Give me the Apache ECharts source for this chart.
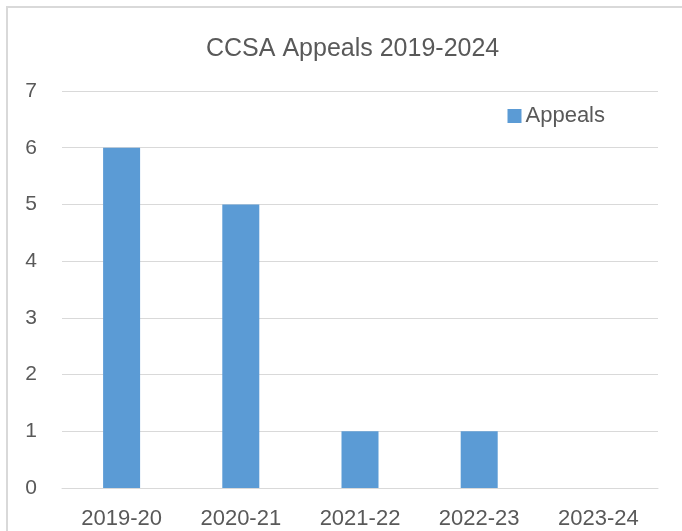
<!DOCTYPE html>
<html>
<head>
<meta charset="utf-8">
<script src="https://cdn.jsdelivr.net/npm/echarts@6/dist/echarts.min.js"></script>
<style>
  html, body { margin: 0; padding: 0; background: #fff; }
  #chart { width: 682px; height: 531px; }
</style>
</head>
<body>
<div id="chart"></div>
<script>
const categories = ['2019-20', '2020-21', '2021-22', '2022-23', '2023-24'];
const appeals = [6, 5, 1, 1, 0];
const yTicks = [0, 1, 2, 3, 4, 5, 6, 7];

const textColor = '#595959';
const font = '"Liberation Sans", sans-serif';

const chart = echarts.init(document.getElementById('chart'));
chart.setOption({
  animation: false,
  textStyle: { fontFamily: font, color: textColor },
  graphic: [{
    type: 'rect',
    shape: { x: 7, y: 7, width: 700, height: 600 },
    style: { fill: 'none', stroke: '#d9d9d9', lineWidth: 2 },
    silent: true,
  }],
  title: {
    text: 'CCSA Appeals 2019-2024',
    left: 201,
    top: 32,
    textStyle: { fontFamily: font, fontSize: 25, fontWeight: 'normal', color: textColor },
  },
  legend: {
    data: ['Appeals'],
    right: 72,
    top: 100,
    icon: 'rect',
    itemWidth: 14,
    itemHeight: 14,
    itemGap: 5,
    textStyle: { fontFamily: font, fontSize: 22, color: textColor, padding: [0, 0, 0, -1] },
  },
  grid: { left: 62, right: 24, top: 91, bottom: 43, containLabel: false },
  xAxis: {
    type: 'category',
    data: categories,
    axisLine: { show: true, lineStyle: { color: '#d9d9d9', width: 1 } },
    axisTick: { show: false },
    axisLabel: { fontFamily: font, fontSize: 22, color: textColor, margin: 20 },
  },
  yAxis: {
    type: 'value',
    min: yTicks[0],
    max: yTicks[yTicks.length - 1],
    interval: 1,
    axisLine: { show: false },
    axisTick: { show: false },
    axisLabel: { fontFamily: font, fontSize: 21, color: textColor, margin: 25 },
    splitLine: { lineStyle: { color: '#d9d9d9', width: 1 } },
  },
  series: [{
    name: 'Appeals',
    type: 'bar',
    data: appeals,
    barWidth: 37,
    itemStyle: { color: '#5b9bd5' },
  }],
});
</script>
</body>
</html>
